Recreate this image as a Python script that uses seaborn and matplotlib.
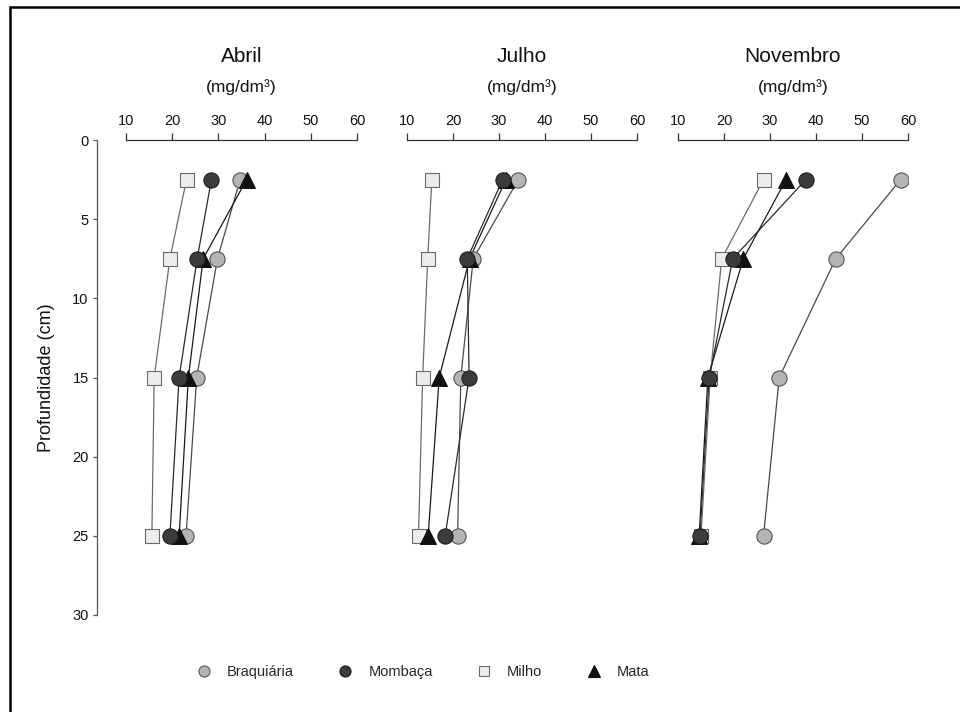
import matplotlib
matplotlib.use("Agg")
import matplotlib.pyplot as plt
import seaborn as sns
import pandas as pd
from matplotlib.lines import Line2D

# ---------------- data ----------------
depths = [2.5, 7.5, 15, 25]
months = ["Abril", "Julho", "Novembro"]
series = ["Braquiária", "Mombaça", "Milho", "Mata"]

abril_braq = [34.7, 29.8, 25.3, 23.0]
abril_momb = [28.5, 25.4, 21.5, 19.5]
abril_milho = [23.1, 19.5, 16.1, 15.6]
abril_mata = [36.1, 26.7, 23.5, 21.5]

julho_braq = [34.2, 24.4, 21.7, 21.0]
julho_momb = [30.8, 23.1, 23.5, 18.3]
julho_milho = [15.4, 14.5, 13.4, 12.5]
julho_mata = [31.5, 23.6, 17.0, 14.6]

nov_braq = [58.4, 44.3, 32.0, 28.6]
nov_momb = [37.8, 21.9, 16.8, 14.8]
nov_milho = [28.6, 19.5, 17.0, 15.0]
nov_mata = [33.5, 24.2, 16.5, 14.6]

x_ticks = [10, 20, 30, 40, 50, 60]
y_ticks = [0, 5, 10, 15, 20, 25, 30]

panel_values = {
    "Abril": [abril_braq, abril_momb, abril_milho, abril_mata],
    "Julho": [julho_braq, julho_momb, julho_milho, julho_mata],
    "Novembro": [nov_braq, nov_momb, nov_milho, nov_mata],
}

rows = []
for m in months:
    for s, vals in zip(series, panel_values[m]):
        for d, v in zip(depths, vals):
            rows.append({"mes": m, "serie": s, "prof": d, "valor": v})
df = pd.DataFrame(rows)

# ---------------- style ----------------
sns.set_theme(style="white")
plt.rcParams["font.family"] = ["Liberation Sans", "DejaVu Sans"]

styles = {
    "Braquiária": dict(marker="o", face="#b4b4b4", edge="#555555", size=120, line="#4a4a4a"),
    "Mombaça": dict(marker="o", face="#3c3c3c", edge="#1e1e1e", size=120, line="#2a2a2a"),
    "Milho": dict(marker="s", face="#ececec", edge="#6a6a6a", size=100, line="#6a6a6a"),
    "Mata": dict(marker="^", face="#111111", edge="#111111", size=130, line="#1a1a1a"),
}
draw_order = ["Braquiária", "Milho", "Mata", "Mombaça"]

W, H = 960, 712
fig = plt.figure(figsize=(9.6, 7.12), dpi=100)

top_px, bot_px = 140, 615
px_per_unit = 4.62
panels = [
    dict(left=97, right=357, xmin=10 - (126 - 97) / px_per_unit, x10=126),
    dict(left=407, right=637, xmin=10, x10=407),
    dict(left=678, right=908, xmin=10, x10=678),
]

for i, (m, p) in enumerate(zip(months, panels)):
    ax = fig.add_axes([p["left"] / W, 1 - bot_px / H,
                       (p["right"] - p["left"]) / W, (bot_px - top_px) / H])
    ax.set_facecolor("none")
    sub = df[df["mes"] == m]
    # lines first
    for s in series:
        d = sub[sub["serie"] == s]
        sns.lineplot(data=d, x="valor", y="prof", orient="y", ax=ax,
                     color=styles[s]["line"], lw=0.9, errorbar=None,
                     legend=False, zorder=2)
    # markers on top
    for s in draw_order:
        d = sub[sub["serie"] == s]
        st = styles[s]
        sns.scatterplot(data=d, x="valor", y="prof", ax=ax, marker=st["marker"],
                        color=st["face"], edgecolor=st["edge"], linewidth=0.8,
                        s=st["size"], legend=False, zorder=3)
    ax.set_xlim(p["xmin"], 60)
    ax.set_ylim(30, 0)
    ax.set_xlabel("")
    ax.set_ylabel("")
    ax.xaxis.set_ticks_position("top")
    ax.set_xticks(x_ticks)
    ax.set_xticklabels([str(t) for t in x_ticks])
    ax.tick_params(axis="x", direction="out", length=5, width=0.9,
                   color="#333333", labelsize=10.5, pad=3.5, labelcolor="#111111",
                   top=True, bottom=False)
    for sp in ["bottom", "right"]:
        ax.spines[sp].set_visible(False)
    ax.spines["top"].set_bounds(10, 60)
    ax.spines["top"].set_color("#333333")
    ax.spines["top"].set_linewidth(0.9)
    if i == 0:
        ax.spines["left"].set_color("#555555")
        ax.spines["left"].set_linewidth(0.9)
        ax.set_yticks(y_ticks)
        ax.set_yticklabels([str(t) for t in y_ticks])
        ax.tick_params(axis="y", direction="out", length=3, width=0.9,
                       color="#555555", labelsize=10.5, pad=3, labelcolor="#111111",
                       left=True)
    else:
        ax.spines["left"].set_visible(False)
        ax.set_yticks([])

    cx = (p["x10"] + p["right"]) / 2 / W
    fig.text(cx, 1 - 56 / H, m, ha="center", va="center", fontsize=15, color="#111111")
    fig.text(cx, 1 - 87 / H, "(mg/dm³)", ha="center", va="center", fontsize=12.5, color="#111111")

fig.text(47 / W, 1 - 378 / H, "Profundidade (cm)", rotation=90, ha="center",
         va="center", fontsize=13, color="#111111")

# legend
handles = []
for s in series:
    st = styles[s]
    handles.append(Line2D([], [], linestyle="none", marker=st["marker"],
                          markerfacecolor=st["face"], markeredgecolor=st["edge"],
                          markeredgewidth=0.8, markersize=8 if st["marker"] != "s" else 7.5))
fig.legend(handles, series, loc="center", bbox_to_anchor=(423 / W, 1 - 672 / H),
           ncol=4, frameon=False, fontsize=10.5, handlelength=1.0,
           handletextpad=1.1, columnspacing=3.0)

# partial frame (top and left edges)
fig.add_artist(Line2D([9.5 / W, 1], [1 - 6.5 / H, 1 - 6.5 / H], color="black",
                      lw=1.8, transform=fig.transFigure))
fig.add_artist(Line2D([9.5 / W, 9.5 / W], [0, 1 - 6.5 / H], color="black",
                      lw=1.8, transform=fig.transFigure))

fig.savefig("out.png", dpi=100, facecolor="white")
